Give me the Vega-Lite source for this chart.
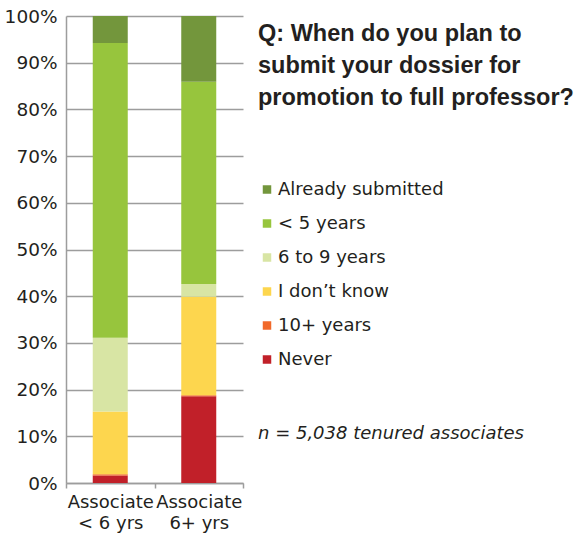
{
  "$schema": "https://vega.github.io/schema/vega-lite/v6.json",
  "width": 177,
  "height": 467,
  "autosize": {"type": "none"},
  "padding": {"left": 66, "top": 16, "right": 336, "bottom": 52},
  "background": "white",
  "title": {
    "text": "n = 5,038 tenured associates",
    "orient": "bottom",
    "anchor": "start",
    "frame": "group",
    "dx": 192,
    "offset": -107,
    "font": "DejaVu Sans",
    "fontSize": 18,
    "fontStyle": "italic",
    "fontWeight": "normal",
    "color": "#231f20"
  },
  "data": {
    "values": [
      {"group": "Associate < 6 yrs", "response": "Never", "rank": 1, "share": 0.016},
      {"group": "Associate < 6 yrs", "response": "10+ years", "rank": 2, "share": 0.003},
      {"group": "Associate < 6 yrs", "response": "I don’t know", "rank": 3, "share": 0.134},
      {"group": "Associate < 6 yrs", "response": "6 to 9 years", "rank": 4, "share": 0.158},
      {"group": "Associate < 6 yrs", "response": "< 5 years", "rank": 5, "share": 0.631},
      {"group": "Associate < 6 yrs", "response": "Already submitted", "rank": 6, "share": 0.058},
      {"group": "Associate 6+ yrs", "response": "Never", "rank": 1, "share": 0.186},
      {"group": "Associate 6+ yrs", "response": "10+ years", "rank": 2, "share": 0.002},
      {"group": "Associate 6+ yrs", "response": "I don’t know", "rank": 3, "share": 0.211},
      {"group": "Associate 6+ yrs", "response": "6 to 9 years", "rank": 4, "share": 0.027},
      {"group": "Associate 6+ yrs", "response": "< 5 years", "rank": 5, "share": 0.433},
      {"group": "Associate 6+ yrs", "response": "Already submitted", "rank": 6, "share": 0.141}
    ]
  },
  "mark": {"type": "bar", "size": 35},
  "encoding": {
    "x": {
      "field": "group",
      "type": "nominal",
      "sort": ["Associate < 6 yrs", "Associate 6+ yrs"],
      "scale": {"paddingInner": 0, "paddingOuter": 0},
      "axis": {
        "title": null,
        "labelAngle": 0,
        "labelExpr": "[slice(datum.label, 0, 9), slice(datum.label, 10)]",
        "labelFont": "DejaVu Sans",
        "labelFontSize": 18,
        "labelColor": "#231f20",
        "labelLineHeight": 21,
        "labelPadding": 5,
        "tickBand": "extent",
        "tickSize": 5,
        "tickColor": "#9d9d9d",
        "tickWidth": 1.5,
        "domainColor": "#9d9d9d",
        "domainWidth": 1.5,
        "grid": false
      }
    },
    "y": {
      "field": "share",
      "type": "quantitative",
      "stack": "zero",
      "scale": {"domain": [0, 1], "nice": false},
      "axis": {
        "title": null,
        "format": ".0%",
        "values": [0, 0.1, 0.2, 0.3, 0.4, 0.5, 0.6, 0.7, 0.8, 0.9, 1],
        "labelFont": "DejaVu Sans",
        "labelFontSize": 18.5,
        "labelColor": "#231f20",
        "labelPadding": 9,
        "ticks": false,
        "domainColor": "#9d9d9d",
        "domainWidth": 1.5,
        "grid": true,
        "gridColor": "#9d9d9d",
        "gridWidth": 1.5
      }
    },
    "order": {"field": "rank", "type": "quantitative", "sort": "ascending"},
    "color": {
      "field": "response",
      "type": "nominal",
      "scale": {
        "domain": ["Already submitted", "< 5 years", "6 to 9 years", "I don’t know", "10+ years", "Never"],
        "range": ["#73963c", "#97c53d", "#d8e5a4", "#fdd64e", "#f1692a", "#c12029"]
      },
      "legend": {
        "orient": "none",
        "legendX": 192,
        "legendY": 5.5,
        "values": ["Already submitted", "< 5 years", "6 to 9 years", "I don’t know", "10+ years", "Never"],
        "title": ["Q: When do you plan to", "submit your dossier for", "promotion to full professor?"],
        "titleFont": "Liberation Sans",
        "titleFontSize": 23.5,
        "titleFontWeight": "bold",
        "titleColor": "#231f20",
        "titleLineHeight": 32,
        "titlePadding": 71.5,
        "titleLimit": 400,
        "symbolType": "square",
        "symbolSize": 72,
        "symbolStrokeWidth": 0,
        "symbolOpacity": 1,
        "symbolOffset": 0,
        "labelOffset": 2,
        "labelFont": "DejaVu Sans",
        "labelFontSize": 18,
        "labelColor": "#231f20",
        "labelLimit": 300,
        "rowPadding": 16
      }
    }
  },
  "config": {"view": {"stroke": null}}
}
